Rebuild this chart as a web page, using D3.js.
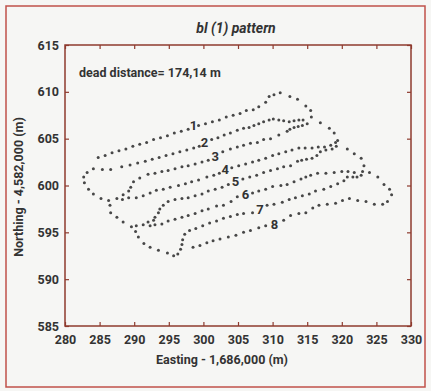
<!DOCTYPE html>
<html>
<head>
<meta charset="utf-8">
<script src="https://cdn.jsdelivr.net/npm/d3@7"></script>
<style>
  body { margin: 0; background: #f6f6f4; }
  svg text { font-family: Roboto, "Open Sans", sans-serif; fill: #333; }
</style>
</head>
<body>
<div class="chart"></div>
<script>
// ticks
var eastTicks = [280, 285, 290, 295, 300, 305, 310, 315, 320, 325, 330];
var northTicks = [585, 590, 595, 600, 605, 610, 615];

// dotted track (easting, northing)
var row1 = [[284.8,603.0],[285.8,603.2],[286.8,603.5],[287.8,603.7],[288.8,603.9],[289.8,604.2],[290.8,604.4],[291.8,604.6],[292.8,604.9],[293.8,605.1],[294.8,605.3],[295.8,605.6],[296.8,605.8],[297.8,606.0],[299.3,606.4],[300.3,606.6],[301.3,606.8],[302.3,607.0],[303.3,607.3],[304.3,607.5],[305.3,607.7],[306.2,608.0],[307.2,608.1],[308.0,608.4],[309.0,608.9],[309.5,609.5],[310.2,609.7],[311.1,609.9]];
var outerRight = [[312.5,609.5],[313.6,609.2],[314.8,608.5],[315.5,608.0],[315.6,607.3],[316.9,606.7],[318.2,606.1],[318.9,605.6],[319.4,604.8],[320.8,603.9],[321.8,603.4],[322.8,602.9],[323.2,602.1],[323.0,601.5],[324.0,601.4],[325.2,600.9],[326.1,600.1],[326.9,599.6],[327.2,599.0],[326.6,598.3],[325.9,598.0],[324.7,598.0],[323.5,598.3],[322.3,598.4],[321.1,598.6]];
var row8 = [[320.1,598.4],[319.1,598.1],[317.9,598.0],[316.7,597.9],[315.8,597.6],[314.8,597.1],[313.8,597.0],[312.6,596.8],[311.6,596.3],[309.0,595.7],[308.0,595.5],[306.8,595.2],[305.8,595.0],[304.7,594.7],[303.6,594.5],[302.4,594.3],[301.4,594.1],[300.5,593.9],[299.5,593.6],[298.5,593.4]];
var row2 = [[284.1,601.8],[285.4,601.7],[286.6,601.7],[288.2,602.0],[289.4,602.2],[290.5,602.4],[291.6,602.6],[292.6,602.8],[293.6,603.0],[294.6,603.2],[295.6,603.4],[296.6,603.6],[297.6,603.8],[298.6,604.0],[299.4,604.2],[301.2,604.9],[302.1,605.1],[303.0,605.4],[303.9,605.6],[304.9,605.9],[305.8,606.1],[306.6,606.2],[307.3,606.4],[308.0,606.6],[308.7,606.8],[309.5,607.0],[310.1,607.1],[310.9,607.0],[311.6,606.9],[312.4,606.8],[313.1,606.9],[313.8,607.0],[314.4,607.0]];
var turn23 = [[315.0,606.6],[314.3,606.4],[313.7,606.3],[313.1,606.2],[312.5,606.0]];
var row3 = [[312.1,605.8],[310.9,605.4],[309.7,605.0],[308.7,604.9],[307.8,604.6],[306.8,604.5],[305.8,604.3],[304.9,604.1],[303.9,603.9],[302.8,603.6],[300.7,602.7],[299.8,602.5],[298.8,602.3],[297.8,602.1],[296.9,602.0],[295.9,601.8],[294.9,601.6],[294.0,601.5],[293.0,601.3],[292.0,601.2],[290.8,600.8],[289.9,600.4],[289.5,599.8],[289.2,599.4]];
var turn34 = [[288.4,599.0],[287.5,598.6],[288.3,598.5]];
var row4 = [[289.2,598.7],[290.3,598.7],[291.3,598.9],[292.3,599.2],[293.2,599.5],[294.2,599.6],[295.2,599.8],[296.4,600.0],[297.4,600.2],[298.3,600.4],[299.3,600.6],[300.5,600.9],[301.5,601.1],[302.3,601.3],[304.1,601.9],[305.1,602.1],[306.1,602.3],[307.1,602.5],[308.0,602.7],[309.0,602.9],[310.0,603.2],[310.9,603.4],[311.9,603.6],[312.8,603.8],[313.8,604.0],[314.7,604.0],[315.7,604.0],[316.6,604.1],[317.5,604.1],[318.4,604.3],[319.1,604.6],[319.2,604.2]];
var row5 = [[318.6,603.9],[317.7,603.8],[316.9,603.6],[316.4,603.2],[315.7,602.9],[314.9,602.8],[314.2,602.7],[313.6,602.6],[312.6,602.1],[311.6,602.0],[310.7,601.8],[309.7,601.6],[308.7,601.4],[307.7,601.1],[306.7,600.9],[305.7,600.7],[303.6,600.1],[302.7,599.8],[301.7,599.6],[300.7,599.4],[299.8,599.1],[298.8,598.9],[297.8,598.7],[296.9,598.6],[295.9,598.5],[294.9,598.3],[294.2,597.9],[293.7,597.5],[293.5,597.1],[293.0,596.6],[292.8,596.3],[292.0,596.1],[291.3,595.8],[290.3,595.7]];
var row6 = [[292.3,595.7],[293.0,595.8],[294.0,595.9],[294.9,596.2],[295.9,596.4],[296.9,596.6],[297.8,596.8],[298.8,597.0],[299.8,597.3],[300.7,597.5],[301.9,597.8],[302.9,597.9],[304.0,598.3],[304.9,598.8],[307.1,599.2],[308.0,599.4],[309.0,599.6],[310.0,599.9],[311.2,600.0],[312.1,600.1],[313.1,600.4],[314.1,600.7],[314.8,600.9],[315.5,601.1],[316.5,601.3],[317.7,601.3],[318.9,601.4],[320.0,601.5],[320.9,601.5],[321.8,601.4],[322.8,601.1],[322.2,600.9],[321.6,600.9],[320.8,600.9]];
var row7 = [[320.3,600.5],[319.4,600.2],[318.4,599.9],[317.4,599.6],[316.2,599.4],[315.3,599.1],[314.3,598.9],[313.3,598.7],[312.4,598.5],[311.4,598.2],[310.2,598.0],[309.2,597.9],[307.1,597.1],[305.8,597.0],[304.9,596.9],[303.9,596.7],[302.9,596.5],[301.9,596.2],[300.9,596.0],[299.9,595.7],[298.9,595.4],[298.0,595.2]];
var outerLeft = [[297.3,594.8],[297.0,594.2],[296.9,593.7],[296.7,593.2],[296.3,592.7],[295.7,592.5],[294.8,592.8],[293.5,593.1],[292.3,593.4],[291.4,593.8],[290.6,594.5],[290.2,595.1],[289.6,595.6],[288.4,596.1],[287.5,596.6],[286.6,597.1],[286.5,597.9],[286.3,598.4],[285.2,598.6],[284.1,599.1],[283.4,599.6],[282.8,600.3],[282.7,600.9],[283.2,601.4]];

// lane numbers
var laneNames = ["1", "2", "3", "4", "5", "6", "7", "8"];
var laneEast = [298.55, 300.14, 301.7, 303.14, 304.64, 306.09, 308.16, 310.29];
var laneNorth = [606.43, 604.57, 603.1, 601.68, 600.46, 599.03, 597.39, 595.89];

var titleText = "bl (1) pattern";
var noteText = "dead distance= 174,14 m";

var track = [].concat(row1, outerRight, row8, row2, turn23, row3, turn34, row4, row5, row6, row7, outerLeft);

var W = 431, H = 391;
var margin = {top: 45, right: 20, bottom: 65, left: 65},
    width = 411 - margin.left,
    height = 326 - margin.top;

var axisColor = "#8e3b2e";

var svg = d3.select(".chart").append("svg")
    .attr("width", W)
    .attr("height", H);

svg.append("rect")
    .attr("x", 0).attr("y", 0).attr("width", W).attr("height", H)
    .attr("fill", "#f6f6f4");

svg.append("rect")
    .attr("x", 6).attr("y", 6).attr("width", W - 12).attr("height", H - 10)
    .attr("fill", "none")
    .attr("stroke", "#c0514a")
    .attr("stroke-width", 1.5);

var g = svg.append("g")
    .attr("transform", "translate(" + margin.left + "," + margin.top + ")");

var x = d3.scaleLinear().domain([280, 330]).range([0, width]);
var y = d3.scaleLinear().domain([585, 615]).range([height, 0]);

function styleAxis(sel) {
    sel.select(".domain").remove();
    sel.selectAll(".tick line").attr("stroke", axisColor).attr("stroke-width", 1.2);
    sel.selectAll(".tick text")
        .attr("fill", "#333")
        .style("font-family", "Roboto, sans-serif")
        .style("font-size", "12.5px")
        .style("font-weight", "700");
}

g.append("g")
    .attr("transform", "translate(0," + height + ")")
    .call(d3.axisBottom(x).tickValues(eastTicks).tickSize(-4).tickPadding(9).tickFormat(d3.format("d")))
    .call(styleAxis);

g.append("g")
    .call(d3.axisTop(x).tickValues(eastTicks).tickSize(-4).tickFormat(""))
    .call(styleAxis);

g.append("g")
    .call(d3.axisLeft(y).tickValues(northTicks).tickSize(-4).tickPadding(6).tickFormat(d3.format("d")))
    .call(styleAxis);

g.append("g")
    .attr("transform", "translate(" + width + ",0)")
    .call(d3.axisRight(y).tickValues(northTicks).tickSize(-4).tickFormat(""))
    .call(styleAxis);

g.append("rect")
    .attr("width", width).attr("height", height)
    .attr("fill", "none")
    .attr("stroke", axisColor)
    .attr("stroke-width", 1.5);

// dots
g.append("g").selectAll("circle")
    .data(track)
    .enter().append("circle")
    .attr("cx", function(d) { return x(d[0]); })
    .attr("cy", function(d) { return y(d[1]); })
    .attr("r", 1.5)
    .attr("fill", "#474747");

// lane numbers
g.append("g").selectAll("text")
    .data(laneNames)
    .enter().append("text")
    .attr("x", function(d, i) { return x(laneEast[i]); })
    .attr("y", function(d, i) { return y(laneNorth[i]); })
    .attr("dy", "0.35em")
    .attr("text-anchor", "middle")
    .style("font-size", "13px")
    .style("font-weight", "700")
    .attr("fill", "#3a2e2a")
    .text(function(d) { return d; });

g.append("text")
    .attr("x", 14)
    .attr("y", 28)
    .attr("dy", "0.35em")
    .style("font-size", "12.5px")
    .style("font-weight", "700")
    .text(noteText);

svg.append("text")
    .attr("x", 236)
    .attr("y", 28)
    .attr("dy", "0.35em")
    .attr("text-anchor", "middle")
    .style("font-size", "14px")
    .style("font-weight", "700")
    .style("font-style", "italic")
    .text(titleText);

svg.append("text")
    .attr("x", 222)
    .attr("y", 360)
    .attr("dy", "0.35em")
    .attr("text-anchor", "middle")
    .style("font-size", "12.5px")
    .style("font-weight", "700")
    .text("Easting - 1,686,000 (m)");

svg.append("text")
    .attr("transform", "translate(19,187) rotate(-90)")
    .attr("dy", "0.35em")
    .attr("text-anchor", "middle")
    .style("font-size", "12.5px")
    .style("font-weight", "700")
    .text("Northing - 4,582,000 (m)");
</script>
</body>
</html>
